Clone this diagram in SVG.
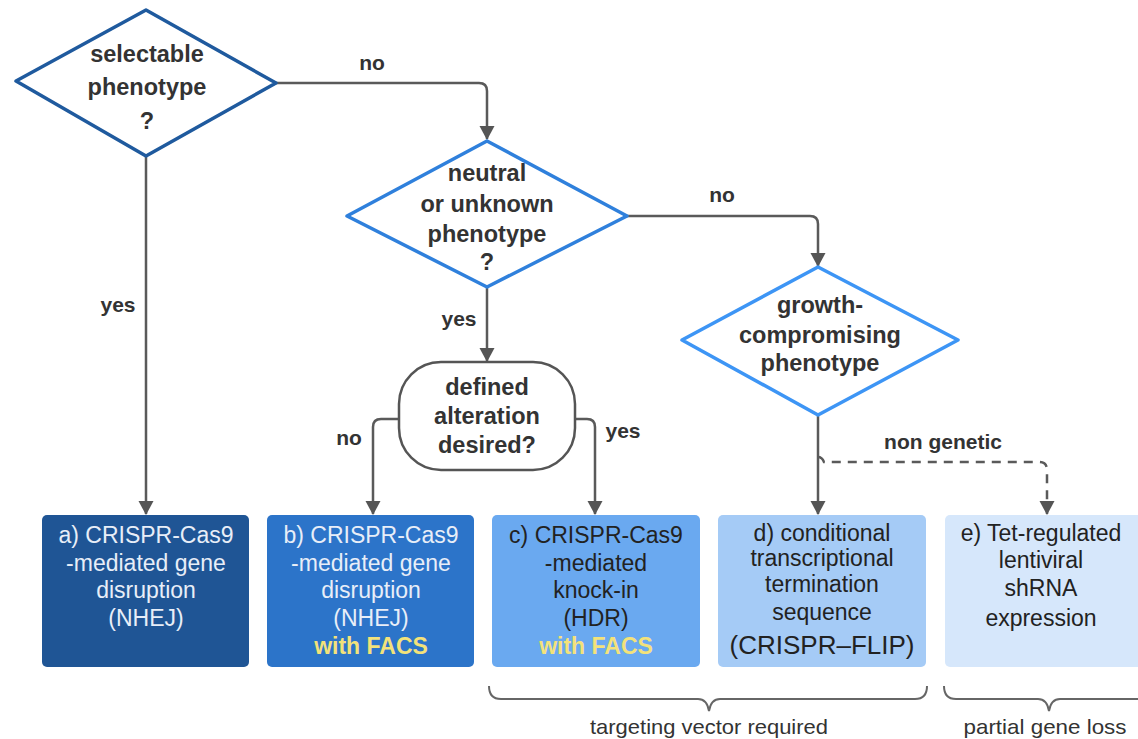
<svg xmlns="http://www.w3.org/2000/svg" width="1138" height="739" viewBox="0 0 1138 739">
<defs>
<marker id="arr" viewBox="0 0 14 17" refX="13" refY="8.5" markerWidth="14" markerHeight="17" markerUnits="userSpaceOnUse" orient="auto">
<path d="M0,1 L14,8.5 L0,16 Z" fill="#555"/>
</marker>
<style>
.q{font-family:"Liberation Sans",Arial,sans-serif;font-weight:bold;font-size:23.5px;fill:#333;text-anchor:middle}
.lbl{font-family:"Liberation Sans",Arial,sans-serif;font-weight:bold;font-size:21px;fill:#333;text-anchor:middle}
.bt{font-family:"Liberation Sans",Arial,sans-serif;font-size:23px;text-anchor:middle}
.lt{fill:#e8eef8}
.dk{fill:#222}
.fx{font-weight:bold;fill:#f3e27a}
.cn{fill:none;stroke:#5a5a5a;stroke-width:2.5}
.br{fill:none;stroke:#666;stroke-width:2}
.bl{font-family:"Liberation Sans",Arial,sans-serif;font-size:21px;fill:#333;text-anchor:middle}
</style>
</defs>
<rect width="1138" height="739" fill="#fff"/>
<g id="connectors">
<path class="cn" d="M276,83 H479 Q487,83 487,91 V139" marker-end="url(#arr)"/>
<path class="cn" d="M146,156 V514" marker-end="url(#arr)"/>
<path class="cn" d="M627,216 H810 Q818,216 818,224 V266" marker-end="url(#arr)"/>
<path class="cn" d="M487,287 V361" marker-end="url(#arr)"/>
<path class="cn" d="M399,419 H381 Q373,419 373,427 V514" marker-end="url(#arr)"/>
<path class="cn" d="M575,419 H587 Q595,419 595,427 V514" marker-end="url(#arr)"/>
<path class="cn" d="M818,415 V514" marker-end="url(#arr)"/>
<path class="cn" d="M818,457 Q822,457 824,462 H1039 Q1047,462 1047,470 V514" stroke-dasharray="9,7" marker-end="url(#arr)"/>
<text class="lbl" x="372" y="70">no</text>
<text class="lbl" x="118" y="312">yes</text>
<text class="lbl" x="722" y="202">no</text>
<text class="lbl" x="459" y="326">yes</text>
<text class="lbl" x="349" y="445">no</text>
<text class="lbl" x="623" y="438">yes</text>
<text class="lbl" x="943" y="449">non genetic</text>
</g>
<g id="d1">
<path d="M146,10 L276,83 L146,156 L16,81 Z" fill="#fff" stroke="#1f5a9e" stroke-width="3.5" stroke-linejoin="round"/>
<text class="q" x="147" y="62">selectable</text>
<text class="q" x="147" y="95">phenotype</text>
<text class="q" x="147" y="129">?</text>
</g>
<g id="d2">
<path d="M487,141 L627,216 L487,287 L347,216 Z" fill="#fff" stroke="#2f80dc" stroke-width="3.5" stroke-linejoin="round"/>
<text class="q" x="487" y="181">neutral</text>
<text class="q" x="487" y="212">or unknown</text>
<text class="q" x="487" y="242">phenotype</text>
<text class="q" x="487" y="270">?</text>
</g>
<g id="d3">
<path d="M818,267 L958,340 L818,415 L682,340 Z" fill="#fff" stroke="#3d95f5" stroke-width="3.5" stroke-linejoin="round"/>
<text class="q" x="820" y="313">growth-</text>
<text class="q" x="820" y="343">compromising</text>
<text class="q" x="820" y="371">phenotype</text>
</g>
<g id="r1">
<rect x="399" y="362" width="176" height="108" rx="42" ry="42" fill="#fff" stroke="#555" stroke-width="2.5"/>
<text class="q" x="487" y="395">defined</text>
<text class="q" x="487" y="424">alteration</text>
<text class="q" x="487" y="453">desired?</text>
</g>
<g id="a">
<rect x="42" y="515" width="207" height="152" rx="5" fill="#1f5595"/>
<text class="bt lt" x="146" y="543">a) CRISPR-Cas9</text>
<text class="bt lt" x="146" y="571">-mediated gene</text>
<text class="bt lt" x="146" y="598">disruption</text>
<text class="bt lt" x="146" y="626">(NHEJ)</text>
</g>
<g id="b">
<rect x="267" y="515" width="207" height="152" rx="5" fill="#2c74c9"/>
<text class="bt lt" x="371" y="543">b) CRISPR-Cas9</text>
<text class="bt lt" x="371" y="571">-mediated gene</text>
<text class="bt lt" x="371" y="598">disruption</text>
<text class="bt lt" x="371" y="626">(NHEJ)</text>
<text class="bt fx" x="371" y="654">with FACS</text>
</g>
<g id="c">
<rect x="492" y="515" width="208" height="152" rx="5" fill="#6aa9f0"/>
<text class="bt dk" x="596" y="543">c) CRISPR-Cas9</text>
<text class="bt dk" x="596" y="571">-mediated</text>
<text class="bt dk" x="596" y="598">knock-in</text>
<text class="bt dk" x="596" y="626">(HDR)</text>
<text class="bt fx" x="596" y="654">with FACS</text>
</g>
<g id="d">
<rect x="718" y="515" width="208" height="152" rx="5" fill="#a5cbf6"/>
<text class="bt dk" x="822" y="541">d) conditional</text>
<text class="bt dk" x="822" y="566">transcriptional</text>
<text class="bt dk" x="822" y="592">termination</text>
<text class="bt dk" x="822" y="620">sequence</text>
<text class="bt dk" x="822" y="654" style="font-size:26px">(CRISPR–FLIP)</text>
</g>
<g id="e">
<rect x="945" y="515" width="200" height="152" rx="5" fill="#d6e7fb"/>
<text class="bt dk" x="1041" y="541">e) Tet-regulated</text>
<text class="bt dk" x="1041" y="568">lentiviral</text>
<text class="bt dk" x="1041" y="596">shRNA</text>
<text class="bt dk" x="1041" y="626">expression</text>
</g>
<g id="braces">
<path class="br" d="M489,686 Q489,699 501,699 H698 Q707,699 709,711 Q711,699 720,699 H915 Q927,699 927,686"/>
<path class="br" d="M944,686 Q944,699 956,699 H1038 Q1047,699 1049,711 Q1051,699 1060,699 H1140"/>
<text class="bl" x="709" y="734" textLength="238" lengthAdjust="spacingAndGlyphs">targeting vector required</text>
<text class="bl" x="1045" y="734" textLength="163" lengthAdjust="spacingAndGlyphs">partial gene loss</text>
</g>
</svg>
